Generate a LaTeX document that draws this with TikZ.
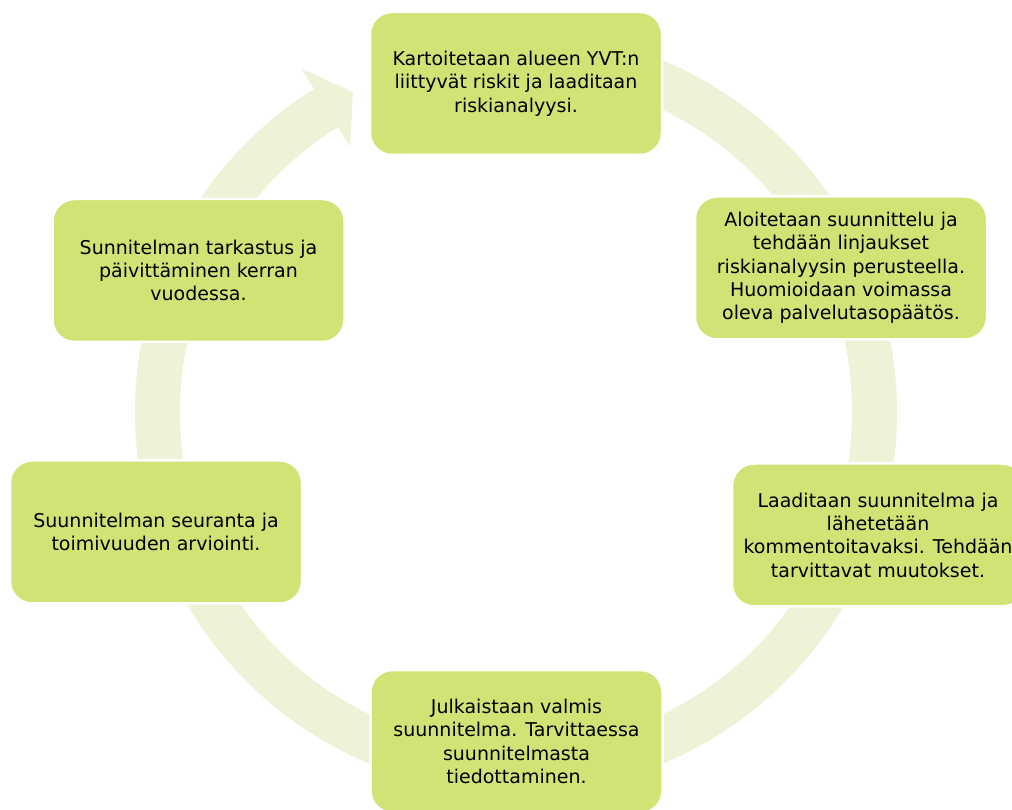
\documentclass[tikz,border=0pt]{standalone}
\usepackage{fontspec}
\setmainfont{DejaVu Sans}
\usepackage{xcolor}
\usepackage{tikz}
\usetikzlibrary{positioning}

\definecolor{boxgreen}{RGB}{211,226,116}
\definecolor{ringgreen}{RGB}{238,242,215}

\begin{document}
\begin{tikzpicture}[x=1pt, y=1pt]

    % Define style for boxes
    \tikzstyle{stage} = [rectangle, rounded corners=22pt, minimum width=292pt, minimum height=143pt, text centered, align=center, draw=white, line width=2.5pt, fill=boxgreen, font=\fontsize{19}{23.3}\selectfont]

    \useasboundingbox (0,0) rectangle (1012,809);
    \clip (0,0) rectangle (1012,809);

    % Ring with arrow
    \coordinate (centre) at (516,397);
    \fill[ringgreen] ([shift={(100:381)}]centre) arc[start angle=100, end angle=-238, radius=381]
        -- ([shift={(-238:405)}]centre) -- ([shift={(-243:359)}]centre) -- ([shift={(-238:313)}]centre)
        -- ([shift={(-238:336)}]centre) arc[start angle=-238, end angle=100, radius=336] -- cycle;

    % Nodes
    \node (kartoitus) [stage] at (516,725.5) {Kartoitetaan alueen YVT:n\\ liittyvät riskit ja laaditaan\\ riskianalyysi.};
    \node (aloitus) [stage] at (841,541) {Aloitetaan suunnittelu ja\\ tehdään linjaukset\\ riskianalyysin perusteella.\\ Huomioidaan voimassa\\ oleva palvelutasopäätös.};
    \node (laadinta) [stage] at (878,274) {Laaditaan suunnitelma ja\\ lähetetään\\ kommentoitavaksi. Tehdään\\ tarvittavat muutokset.};
    \node (julkaisu) [stage] at (516.5,67.5) {Julkaistaan valmis\\ suunnitelma. Tarvittaessa\\ suunnitelmasta\\ tiedottaminen.};
    \node (seuranta) [stage] at (156,277) {Suunnitelman seuranta ja\\ toimivuuden arviointi.};
    \node (tarkastus) [stage] at (198.5,538.5) {Sunnitelman tarkastus ja\\ päivittäminen kerran\\ vuodessa.};

\end{tikzpicture}
\end{document}
